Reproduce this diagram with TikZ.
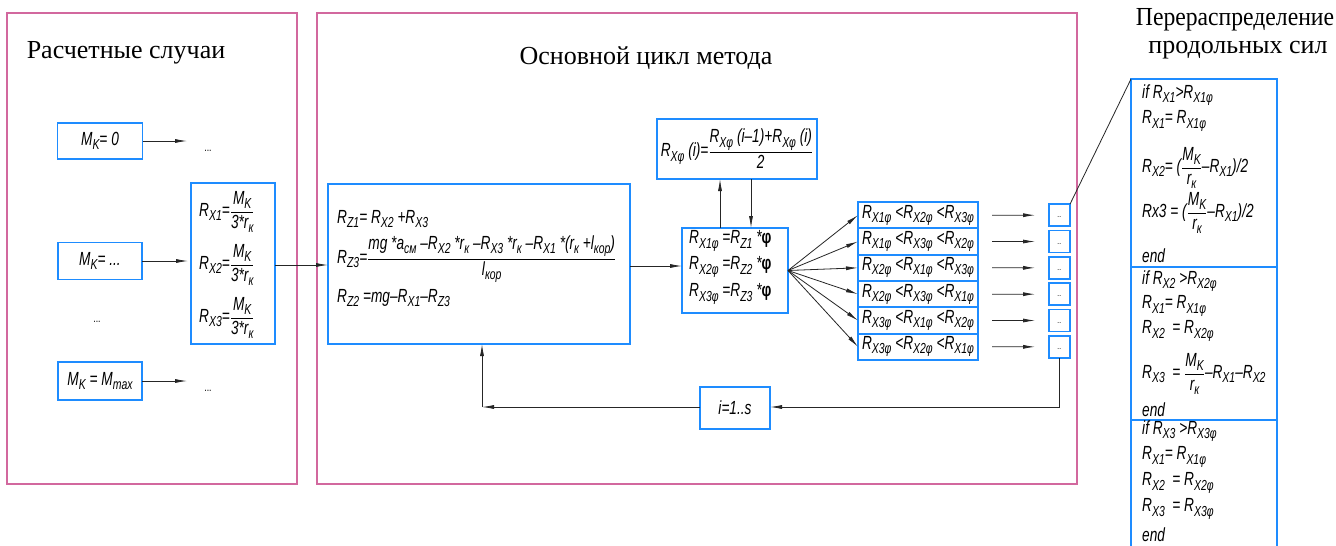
\documentclass[tikz,border=0pt]{standalone}
\usepackage{fontspec}
\usepackage{amsmath}
\setmainfont{Liberation Serif}
\newfontfamily\gost[FakeStretch=0.72]{Liberation Sans}
\usetikzlibrary{arrows.meta}
\definecolor{panel}{HTML}{D2689E}
\definecolor{boxblue}{HTML}{1E8CFF}
% lowered index, a little larger than a plain subscript
\newcommand\sx[1]{\raisebox{-4.2pt}{\fontsize{14.5}{15}\selectfont #1}}
\newcommand\fr[2]{\ensuremath{\dfrac{\hbox{#1}}{\hbox{#2}}}}
\newcommand\fml{\gost\itshape\fontsize{19}{22}\selectfont}
\newcommand\phib{{\upshape\bfseries φ}}
\tikzset{
  panelrect/.style={draw=panel, line width=1.3pt},
  bbox/.style={draw=boxblue, line width=1.8pt, inner sep=0pt, outer sep=0pt, font=\fml},
  arr/.style={draw=black!85, line width=0.8pt, -{Latex[length=12pt,width=4pt]}},
  wire/.style={draw=black!85, line width=0.8pt},
  ln/.style={anchor=west, inner sep=0pt, font=\fml},
  ttl/.style={font=\fontsize{26}{30}\selectfont, inner sep=0pt},
  dotsnode/.style={font=\gost\fontsize{12}{12}\selectfont, inner sep=0pt}
}
\begin{document}
\begin{tikzpicture}[x=1pt,y=-1pt]
\useasboundingbox (0,0) rectangle (1336,546);
\clip (0,0) rectangle (1336,546);
\fill[white] (0,0) rectangle (1336,546);

% panels
\draw[panelrect] (7,13) rectangle (297,484);
\draw[panelrect] (317,13) rectangle (1077,484);

% titles
\node[ttl] (t1) at (126,53) {Расчетные случаи};
\node[ttl] (t2) at (646,58) {Основной цикл метода};
\node[ttl] (t3a) at (1235,20) {\scalebox{0.91}[1]{Перераспределение}};
\node[ttl] (t3b) at (1238,50) {продольных сил};

% load cases
\node[bbox, minimum width=85, minimum height=36] (mk0) at (100,141) {M\sx{K}= 0};
\node[bbox, minimum width=84, minimum height=37] (mk1) at (100,261) {M\sx{K}= ...};
\node[bbox, minimum width=84, minimum height=38] (mkm) at (100,381) {M\sx{K} = M\sx{max}};
\node[dotsnode] (d1) at (208,151) {...};
\node[dotsnode] (d2) at (97,322) {...};
\node[dotsnode] (d3) at (208,391) {...};
\coordinate (e0) at (187,141);
\coordinate (em) at (187,381);

% initial longitudinal forces
\node[bbox, minimum width=84, minimum height=161] (rb) at (233,263.5) {};
\node[ln] (r1) at (199,212) {R\sx{X1}=\fr{M\sx{K}}{3*r\sx{к}}};
\node[ln] (r2) at (199,265) {R\sx{X2}=\fr{M\sx{K}}{3*r\sx{к}}};
\node[ln] (r3) at (199,318) {R\sx{X3}=\fr{M\sx{K}}{3*r\sx{к}}};

\draw[arr] (mk0.east) -- (e0);
\draw[arr, shorten >=3pt] (mk1.east) -- (mk1.east -| rb.west);
\draw[arr] (mkm.east) -- (em);

% normal reactions
\node[bbox, minimum width=302, minimum height=160] (big) at (479,264) {};
\node[ln] (z1) at (337,219) {R\sx{Z1}= R\sx{X2} +R\sx{X3}};
\node[ln] (z3) at (337,259) {R\sx{Z3}=\fr{mg *a\sx{см} –R\sx{X2} *r\sx{к} –R\sx{X3} *r\sx{к} –R\sx{X1} *(r\sx{к} +l\sx{кор})}{l\sx{кор}}};
\node[ln] (z2) at (337,298) {R\sx{Z2} =mg–R\sx{X1}–R\sx{Z3}};
\draw[arr] (rb.east |- 0,265) -- (big.west |- 0,265);

% adhesion limits
\node[bbox, minimum width=106, minimum height=85] (mid) at (735,270.5) {};
\node[ln] (m1) at (689,241) {R\sx{X1φ} =R\sx{Z1} *\phib};
\node[ln] (m2) at (689,267) {R\sx{X2φ} =R\sx{Z2} *\phib};
\node[ln] (m3) at (689,294) {R\sx{X3φ} =R\sx{Z3} *\phib};
\draw[arr] (big.east |- 0,266) -- (mid.west |- 0,266);

\node[bbox, minimum width=160, minimum height=60] (avg) at (737,149)
  {R\sx{Xφ} (i)=\fr{R\sx{Xφ} (i–1)+R\sx{Xφ} (i)}{2}};
\draw[arr] ([xshift=-15pt]mid.north) -- ([xshift=-15pt]mid.north |- avg.south);
\draw[arr] ([xshift=16pt]mid.north |- avg.south) -- ([xshift=16pt]mid.north);

% orderings of the limits
\foreach \k/\a/\b/\c in {1/1/2/3, 2/1/3/2, 3/2/1/3, 4/2/3/1, 5/3/1/2, 6/3/2/1}{
  \node[bbox, minimum width=120, minimum height=26.33, anchor=north] (row\k) at (918,{202+26.33*(\k-1)})
    {R\sx{X\a φ} <R\sx{X\b φ} <R\sx{X\c φ}};
  \node[bbox, minimum width=21, minimum height=22] (sb\k) at (1059.5,{215.2+26.33*(\k-1)})
    {\raisebox{-5pt}{\gost\fontsize{9}{9}\selectfont ..}};
  \draw[arr] (mid.east) -- (row\k.west);
  \draw[arr, shorten <=14pt, shorten >=14pt] (row\k.east) -- (sb\k.west);
}

% loop over iterations
\node[bbox, minimum width=70, minimum height=42] (ibox) at (735,408) {i=1..s};
\coordinate (loopR) at (1059.5,407);
\coordinate (loopL) at (482,407);
\draw[wire] (sb6.south) -- (loopR);
\draw[arr] (loopR) -- (ibox.east |- loopR);
\draw[arr] (ibox.west |- loopL) -- (loopL);
\draw[arr] (loopL) -- (loopL |- big.south);

% redistribution of longitudinal forces
\node[bbox, minimum width=146, minimum height=188, anchor=north west] (rd1) at (1131,79) {};
\node[bbox, minimum width=146, minimum height=153, anchor=north west] (rd2) at (1131,267) {};
\node[bbox, minimum width=146, minimum height=132, anchor=north west] (rd3) at (1131,420) {};
\draw[wire] (sb1.north east) -- (rd1.north west);

\node[ln] (a1) at (1142,95) {if R\sx{X1}>R\sx{X1φ}};
\node[ln] (a2) at (1142,121) {R\sx{X1}= R\sx{X1φ}};
\node[ln] (a3) at (1142,168) {R\sx{X2}= (\fr{M\sx{K}}{r\sx{к}}–R\sx{X1})/2};
\node[ln] (a4) at (1142,213) {Rx3 = (\fr{M\sx{K}}{r\sx{к}}–R\sx{X1})/2};
\node[ln] (a5) at (1142,256) {end};

\node[ln] (b1) at (1142,281) {if R\sx{X2} >R\sx{X2φ}};
\node[ln] (b2) at (1142,306) {R\sx{X1}= R\sx{X1φ}};
\node[ln] (b3) at (1142,331) {R\sx{X2} \ = R\sx{X2φ}};
\node[ln] (b4) at (1142,374) {R\sx{X3} \ = \fr{M\sx{K}}{r\sx{к}}–R\sx{X1}–R\sx{X2}};
\node[ln] (b5) at (1142,410) {end};

\node[ln] (c1) at (1142,431) {if R\sx{X3} >R\sx{X3φ}};
\node[ln] (c2) at (1142,457) {R\sx{X1}= R\sx{X1φ}};
\node[ln] (c3) at (1142,483) {R\sx{X2} \ = R\sx{X2φ}};
\node[ln] (c4) at (1142,509) {R\sx{X3} \ = R\sx{X3φ}};
\node[ln] (c5) at (1142,535) {end};
\end{tikzpicture}
\end{document}
